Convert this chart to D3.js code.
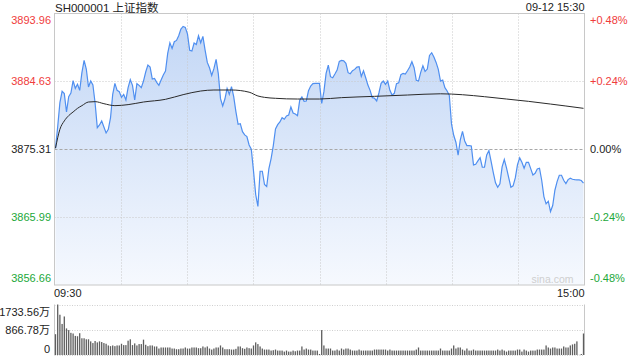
<!DOCTYPE html>
<html><head><meta charset="utf-8">
<script src="https://cdn.jsdelivr.net/npm/d3@7"></script>
<style>
html,body{margin:0;padding:0;background:#fff;}
svg{display:block;font-family:"Liberation Sans",Arial,"Noto Sans CJK SC",sans-serif;}
</style></head><body>
<svg id="c" width="640" height="360"></svg>
<script>
const titleCode = "SH000001";
const titleName = "上证指数";
const stamp = "09-12 15:30";
const timeLabels = ["09:30", "15:00"];
const prevClose = 3875.31;
const priceTicks = [3893.96, 3884.63, 3875.31, 3865.99, 3856.66];
const pctTicks = ["+0.48%", "+0.24%", "0.00%", "-0.24%", "-0.48%"];
const volTicks = [1733.56, 866.78, 0];
const volTickLabels = ["1733.56万", "866.78万", "0"];

// one value per minute, 09:30 .. 11:30 / 13:01 .. 15:00 (241 points)
const price = [
3875.45,3878.42,3881.71,3883.27,3882.95,3880.43,3882.53,3883.04,3884.73,3883.68,
3884.23,3883.40,3885.83,3887.52,3886.33,3883.86,3884.68,3884.13,3881.67,3878.28,
3878.65,3879.20,3878.37,3877.55,3878.05,3879.61,3882.85,3884.36,3883.40,3883.22,
3882.44,3882.85,3882.08,3883.77,3884.87,3884.09,3882.08,3884.32,3884.09,3883.77,
3884.68,3885.92,3886.88,3886.60,3884.96,3885.05,3884.50,3884.09,3884.82,3885.51,
3886.06,3888.48,3889.94,3889.16,3890.08,3890.26,3890.90,3891.82,3892.18,3892.05,
3891.13,3888.89,3888.80,3889.90,3889.71,3890.90,3889.94,3890.81,3888.94,3887.24,
3886.51,3885.46,3886.38,3887.66,3885.69,3882.26,3881.25,3882.21,3883.68,3882.85,
3883.91,3882.53,3880.48,3878.74,3878.83,3877.73,3877.28,3877.05,3875.90,
3875.31,3872.34,3869.09,3867.45,3872.29,3872.29,3870.46,3870.19,3872.66,3874.03,
3875.81,3878.10,3878.69,3879.06,3879.65,3879.43,3879.88,3880.02,3881.12,3880.29,
3880.16,3879.93,3882.03,3882.49,3881.89,3881.94,3883.36,3884.00,3884.32,3884.36,
3884.36,3884.36,3881.62,3883.22,3885.74,3886.88,3885.28,3885.14,3885.64,3886.19,
3887.38,3887.52,3887.47,3887.11,3885.83,3885.69,3886.10,3886.28,3886.60,3886.65,
3885.32,3886.10,3885.14,3884.13,3883.40,3882.40,3882.31,3881.94,3883.04,3884.36,
3884.68,3884.23,3884.68,3883.40,3882.76,3882.99,3884.32,3884.45,3885.55,3885.74,
3885.64,3886.10,3886.60,3887.34,3886.51,3884.78,3884.68,3885.87,3886.79,3886.01,
3886.33,3888.20,3888.57,3887.98,3887.24,3886.28,3884.68,3884.82,3883.77,3883.31,
3882.72,3878.79,3877.23,3876.27,3874.49,
3876.59,3877.77,3876.45,3875.81,3875.81,3875.76,3873.16,3873.25,3873.71,3874.16,
3872.84,3872.84,3874.53,3875.12,3873.66,3872.10,3870.69,3870.09,3870.55,3872.88,
3873.89,3872.74,3871.42,3870.09,3870.28,3871.37,3873.20,3874.12,3873.52,3872.70,
3873.52,3873.52,3872.65,3871.78,3872.01,3872.61,3872.70,3871.05,3868.81,3867.81,
3868.17,3866.75,3867.58,3869.68,3870.87,3871.74,3871.74,3871.05,3870.60,3871.14,
3871.33,3871.19,3871.14,3871.10,3871.10,3871.01,3870.64
];

const avgMinute = [0,2,4,6,8,10,12,15,18,22,27,33,40,50,58,66,72,80,88,92,95,100,110,120,130,145,160,175,185,195,205,215,225,232,240];
const avgPrice = [3875.45,3878.05,3879.20,3879.93,3880.43,3880.93,3881.30,3881.80,3881.85,3881.57,3881.30,3881.44,3881.80,3882.17,3882.81,3883.31,3883.45,3883.45,3883.15,3882.63,3882.44,3882.31,3882.21,3882.21,3882.40,3882.58,3882.76,3882.93,3882.80,3882.53,3882.21,3881.89,3881.52,3881.25,3880.93];

// volume per minute, in 万
const volume = [
714,1733,1382,1066,1323,913,855,761,738,656,
644,749,574,574,539,539,468,410,480,433,
468,445,410,386,328,304,328,304,328,328,
386,340,340,492,539,340,398,328,375,375,
527,351,304,328,328,293,293,222,258,258,
258,258,258,222,222,199,199,222,222,258,
222,222,258,258,258,234,234,293,258,293,
222,187,222,258,258,328,258,199,199,199,
187,187,211,293,293,234,211,258,234,222,
328,433,375,293,222,187,187,187,152,164,
187,152,152,152,117,152,117,117,152,129,
152,152,293,187,222,187,187,152,152,152,
35,855,328,222,222,222,152,152,187,152,
222,187,222,222,187,152,152,152,187,152,
152,152,152,152,152,187,187,187,187,187,
187,152,187,152,152,152,152,152,152,152,152,
152,152,152,187,258,152,152,152,152,152,
152,152,152,152,222,152,152,152,152,222,
328,222,258,258,187,152,222,152,152,187,
152,152,152,152,152,152,152,152,152,152,
187,152,187,152,117,152,152,152,152,187,
187,117,187,152,117,152,152,152,187,187,
187,187,328,258,222,258,258,222,222,222,
293,258,258,328,363,386,468,5,35,738
];

const svg = d3.select("#c");
const L = 54.5, R = 584.5, T = 13.5, B = 285;
const VT = 304.5, VB = 355;
const red = "#f03c3c", green = "#22a83a", txt = "#222";

const x = d3.scaleLinear().domain([0, 240]).range([55.5, 583.5]);
const y = d3.scaleLinear().domain([priceTicks[4], priceTicks[0]]).range([B, T]);
const vy = d3.scaleLinear().domain([0, volTicks[0]]).range([VB, VT]);

const defs = svg.append("defs");
const grad = defs.append("linearGradient").attr("id", "g").attr("gradientUnits", "userSpaceOnUse")
  .attr("x1", 0).attr("x2", 0).attr("y1", T).attr("y2", B);
grad.append("stop").attr("offset", "0").attr("stop-color", "#c0d5f5");
grad.append("stop").attr("offset", "1").attr("stop-color", "#f6f9fe");

// header
const t = svg.append("text").attr("x", 55).attr("y", 8).attr("dy", "0.36em")
  .attr("font-size", 11.5).attr("fill", txt);
t.append("tspan").text(titleCode + " ");
t.append("tspan").attr("font-family", "'Noto Sans CJK SC',sans-serif").attr("font-size", 11.5).text(titleName);
svg.append("text").attr("x", R).attr("y", 7.5).attr("dy", "0.36em").attr("text-anchor", "end")
  .attr("font-size", 11).attr("fill", txt).text(stamp);

// area + line
const idx = d3.range(price.length);
svg.append("path").datum(idx)
  .attr("d", d3.area().x(i => x(i)).y0(B).y1(i => y(price[i])))
  .attr("fill", "url(#g)");

// grid
const gx = d3.range(1, 8).map(k => Math.round(L + k * (R - L) / 8) + 0.5);
svg.append("g").selectAll("line").data(gx).join("line")
  .attr("x1", d => d).attr("x2", d => d).attr("y1", T).attr("y2", B)
  .attr("stroke", "#c8c8c8").attr("stroke-dasharray", "1,2");
[priceTicks[1], priceTicks[3]].forEach(v => {
  const yy = Math.round(y(v)) + 0.5;
  svg.append("line").attr("x1", L).attr("x2", R).attr("y1", yy).attr("y2", yy)
    .attr("stroke", "#c8c8c8").attr("stroke-dasharray", "1,2");
});
{
  const yy = Math.round(y(prevClose)) + 0.5;
  svg.append("line").attr("x1", L).attr("x2", R).attr("y1", yy).attr("y2", yy)
    .attr("stroke", "#a8a8a8").attr("stroke-dasharray", "3,2");
}
svg.append("rect").attr("x", L).attr("y", T).attr("width", R - L).attr("height", B - T)
  .attr("fill", "none").attr("stroke", "#c8c8c8");

svg.append("path").datum(idx)
  .attr("d", d3.line().x(i => x(i)).y(i => y(price[i])))
  .attr("fill", "none").attr("stroke", "#4f8ff0").attr("stroke-width", 1.2);

svg.append("path").datum(d3.range(avgMinute.length))
  .attr("d", d3.line().curve(d3.curveMonotoneX).x(k => x(avgMinute[k])).y(k => y(avgPrice[k])))
  .attr("fill", "none").attr("stroke", "#2a2a2a").attr("stroke-width", 1);

// watermark
svg.append("text").attr("x", 531.5).attr("y", 279).attr("dy", "0.36em")
  .attr("font-size", 10.5).attr("fill", "#cfcfcf").text("sina.com");

// price axis labels
const colorFor = k => k < 2 ? red : (k === 2 ? txt : green);
const labelY = (v, k) => {
  let yy = y(v);
  if (k === 0) yy += 6.5;
  if (k === priceTicks.length - 1) yy -= 7;
  return yy;
};
svg.append("g").selectAll("text").data(priceTicks).join("text")
  .attr("x", 51).attr("y", (d, k) => labelY(d, k)).attr("dy", "0.36em").attr("text-anchor", "end")
  .attr("font-size", 11).attr("fill", (d, k) => colorFor(k)).text(d => d.toFixed(2));
svg.append("g").selectAll("text").data(pctTicks).join("text")
  .attr("x", 590).attr("y", (d, k) => labelY(priceTicks[k], k)).attr("dy", "0.36em")
  .attr("font-size", 11).attr("fill", (d, k) => colorFor(k)).text(d => d);

// time labels
svg.append("text").attr("x", 54).attr("y", 293.5).attr("dy", "0.36em")
  .attr("font-size", 11).attr("fill", txt).text(timeLabels[0]);
svg.append("text").attr("x", R).attr("y", 293.5).attr("dy", "0.36em").attr("text-anchor", "end")
  .attr("font-size", 11).attr("fill", txt).text(timeLabels[1]);

// volume panel
volTicks.forEach(v => {
  const yy = Math.round(vy(v)) + 0.5;
  svg.append("line").attr("x1", L).attr("x2", R).attr("y1", yy).attr("y2", yy)
    .attr("stroke", "#cfcfcf").attr("stroke-dasharray", "1,1.5").attr("stroke-width", 1.2);
});
svg.append("line").attr("x1", L).attr("x2", L).attr("y1", VT).attr("y2", VB).attr("stroke", "#c8c8c8");
svg.append("line").attr("x1", R).attr("x2", R).attr("y1", VT).attr("y2", VB).attr("stroke", "#c8c8c8");

svg.append("g").selectAll("rect").data(volume).join("rect")
  .attr("x", (d, i) => x(i) - 0.65).attr("width", 1.3)
  .attr("y", d => vy(d)).attr("height", d => VB - vy(d))
  .attr("fill", "#5e5e5e");

const vLabelY = [VT + 7.5, vy(volTicks[1]) + 0.5, VB - 6];
svg.append("g").selectAll("text").data(volTickLabels).join("text")
  .attr("x", 50).attr("y", (d, k) => vLabelY[k]).attr("dy", "0.36em").attr("text-anchor", "end")
  .attr("font-size", 11).attr("fill", txt).text(d => d);
</script>
</body></html>
